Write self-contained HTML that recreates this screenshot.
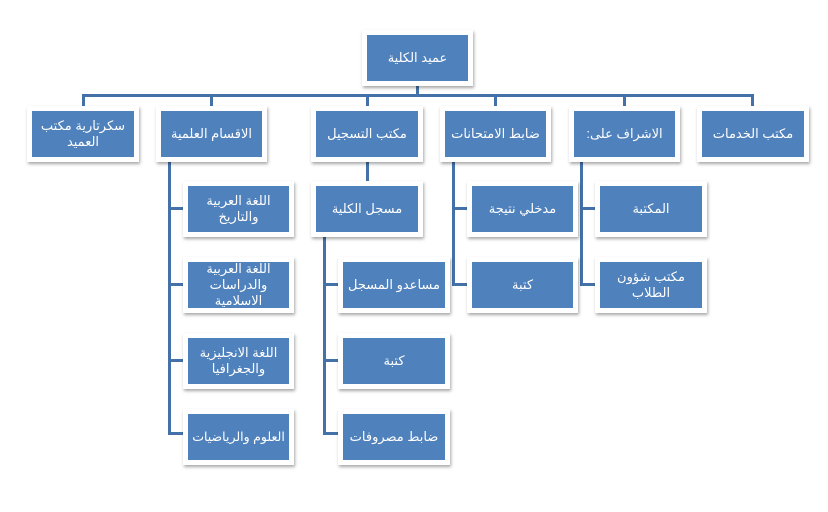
<!DOCTYPE html>
<html><head><meta charset="utf-8"><style>
body{margin:0;width:828px;height:512px;background:#fff;position:relative;overflow:hidden;font-family:"Liberation Sans","DejaVu Sans",sans-serif}
.b{position:absolute;background:#4f81bd;border:5px solid #fff;box-shadow:1px 2px 3px rgba(0,0,0,.35);color:#fff;font-size:13px;line-height:16px;display:flex;align-items:center;justify-content:center;text-align:center;direction:rtl;box-sizing:border-box;padding:0 2px;overflow:hidden}
.l{position:absolute;background:#4472a8}
</style></head><body>
<div class="l" style="left:416px;top:84px;width:3px;height:13px"></div>
<div class="l" style="left:82px;top:94px;width:671px;height:3px"></div>
<div class="l" style="left:82px;top:94px;width:3px;height:14px"></div>
<div class="l" style="left:210px;top:94px;width:3px;height:14px"></div>
<div class="l" style="left:366px;top:94px;width:3px;height:14px"></div>
<div class="l" style="left:494px;top:94px;width:3px;height:14px"></div>
<div class="l" style="left:623px;top:94px;width:3px;height:14px"></div>
<div class="l" style="left:751px;top:94px;width:3px;height:14px"></div>
<div class="l" style="left:168px;top:160px;width:3px;height:275px"></div>
<div class="l" style="left:168px;top:207px;width:17px;height:3px"></div>
<div class="l" style="left:168px;top:283px;width:17px;height:3px"></div>
<div class="l" style="left:168px;top:359px;width:17px;height:3px"></div>
<div class="l" style="left:168px;top:432px;width:17px;height:3px"></div>
<div class="l" style="left:366px;top:160px;width:3px;height:23px"></div>
<div class="l" style="left:323px;top:235px;width:3px;height:200px"></div>
<div class="l" style="left:323px;top:283px;width:17px;height:3px"></div>
<div class="l" style="left:323px;top:359px;width:17px;height:3px"></div>
<div class="l" style="left:323px;top:432px;width:17px;height:3px"></div>
<div class="l" style="left:452px;top:160px;width:3px;height:126px"></div>
<div class="l" style="left:452px;top:207px;width:17px;height:3px"></div>
<div class="l" style="left:452px;top:283px;width:17px;height:3px"></div>
<div class="l" style="left:580px;top:160px;width:3px;height:126px"></div>
<div class="l" style="left:580px;top:207px;width:17px;height:3px"></div>
<div class="l" style="left:580px;top:283px;width:17px;height:3px"></div>
<div class="b" style="left:362px;top:30px;width:111px;height:56px">عميد الكلية</div>
<div class="b" style="left:27px;top:106px;width:112px;height:56px">سكرتارية مكتب العميد</div>
<div class="b" style="left:156px;top:106px;width:111px;height:56px">الاقسام العلمية</div>
<div class="b" style="left:311px;top:106px;width:112px;height:56px">مكتب التسجيل</div>
<div class="b" style="left:440px;top:106px;width:111px;height:56px">ضابط الامتحانات</div>
<div class="b" style="left:569px;top:106px;width:111px;height:56px">الاشراف على:</div>
<div class="b" style="left:697px;top:106px;width:112px;height:56px">مكتب الخدمات</div>
<div class="b" style="left:183px;top:181px;width:111px;height:56px">اللغة العربية والتاريخ</div>
<div class="b" style="left:183px;top:257px;width:111px;height:56px">اللغة العربية والدراسات الاسلامية</div>
<div class="b" style="left:183px;top:333px;width:111px;height:56px">اللغة الانجليزية والجغرافيا</div>
<div class="b" style="left:183px;top:409px;width:111px;height:56px;white-space:nowrap;font-size:12.5px">العلوم والرياضيات</div>
<div class="b" style="left:311px;top:181px;width:112px;height:56px">مسجل الكلية</div>
<div class="b" style="left:338px;top:257px;width:112px;height:56px">مساعدو المسجل</div>
<div class="b" style="left:338px;top:333px;width:112px;height:56px">كتبة</div>
<div class="b" style="left:338px;top:409px;width:112px;height:56px">ضابط مصروفات</div>
<div class="b" style="left:467px;top:181px;width:111px;height:56px">مدخلي نتيجة</div>
<div class="b" style="left:467px;top:257px;width:111px;height:56px">كتبة</div>
<div class="b" style="left:595px;top:181px;width:112px;height:56px">المكتبة</div>
<div class="b" style="left:595px;top:257px;width:112px;height:56px">مكتب شؤون الطلاب</div>
</body></html>
